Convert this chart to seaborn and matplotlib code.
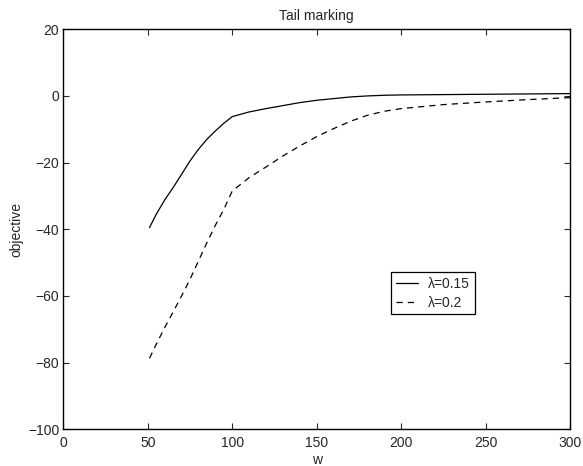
import matplotlib
matplotlib.use("Agg")
import matplotlib.pyplot as plt
import seaborn as sns
import pandas as pd

# values
w = [51, 55, 60, 65, 70, 75, 80, 85, 90, 95, 100, 110, 120, 130, 140, 150,
     160, 170, 180, 190, 200, 225, 250, 275, 300]
obj_015 = [-39.5, -35.5, -31.2, -27.5, -23.5, -19.5, -16.0, -13.0, -10.5, -8.2,
           -6.2, -4.8, -3.8, -2.9, -2.0, -1.3, -0.8, -0.3, 0.0, 0.2, 0.3, 0.4,
           0.5, 0.6, 0.7]
obj_02 = [-78.7, -74.5, -69.5, -64.8, -60.0, -55.0, -49.5, -44.0, -38.8, -34.0,
          -28.5, -24.5, -21.3, -18.0, -15.0, -12.2, -9.8, -7.6, -5.8, -4.6,
          -3.8, -2.6, -1.8, -1.1, -0.5]
labels = ["\u03bb=0.15", "\u03bb=0.2"]
x_ticks = [0, 50, 100, 150, 200, 250, 300]
y_ticks = [-100, -80, -60, -40, -20, 0, 20]

sns.set_style("ticks")
plt.rcParams['font.family'] = ['Liberation Sans', 'DejaVu Sans']
FS = 10

df = pd.DataFrame({
    "w": w * 2,
    "objective": obj_015 + obj_02,
    "lam": [labels[0]] * len(w) + [labels[1]] * len(w),
})

fig = plt.figure(figsize=(5.83, 4.66), dpi=100)
ax = fig.add_axes([0.1086, 0.0788, 0.8694, 0.8584])

sns.lineplot(data=df, x="w", y="objective", style="lam", style_order=labels,
             dashes={labels[0]: "", labels[1]: (5, 4)}, color="black",
             linewidth=0.9, ax=ax)

ax.set_xlim(0, 300)
ax.set_ylim(-100, 20)
ax.set_xticks(x_ticks)
ax.set_yticks(y_ticks)
ax.tick_params(axis="both", direction="in", length=4, width=0.8, top=True,
               right=True, labelsize=FS)
ax.tick_params(axis="x", pad=5)
ax.tick_params(axis="y", pad=3)
for s in ax.spines.values():
    s.set_visible(True)
    s.set_linewidth(1.0)
    s.set_color("black")

ax.set_title("Tail marking", fontsize=FS, pad=7)
ax.set_xlabel("w", fontsize=FS, labelpad=2)
ax.set_ylabel("objective", fontsize=FS, labelpad=3)

leg = ax.legend(loc="upper left", bbox_to_anchor=(0.647, 0.392), fontsize=FS,
                frameon=True, fancybox=False, edgecolor="black", framealpha=1,
                handlelength=1.6, borderpad=0.35, labelspacing=0.3,
                handletextpad=0.7, borderaxespad=0)
leg.get_frame().set_linewidth(0.9)
leg.set_title(None)

fig.savefig("out.png", dpi=100)
